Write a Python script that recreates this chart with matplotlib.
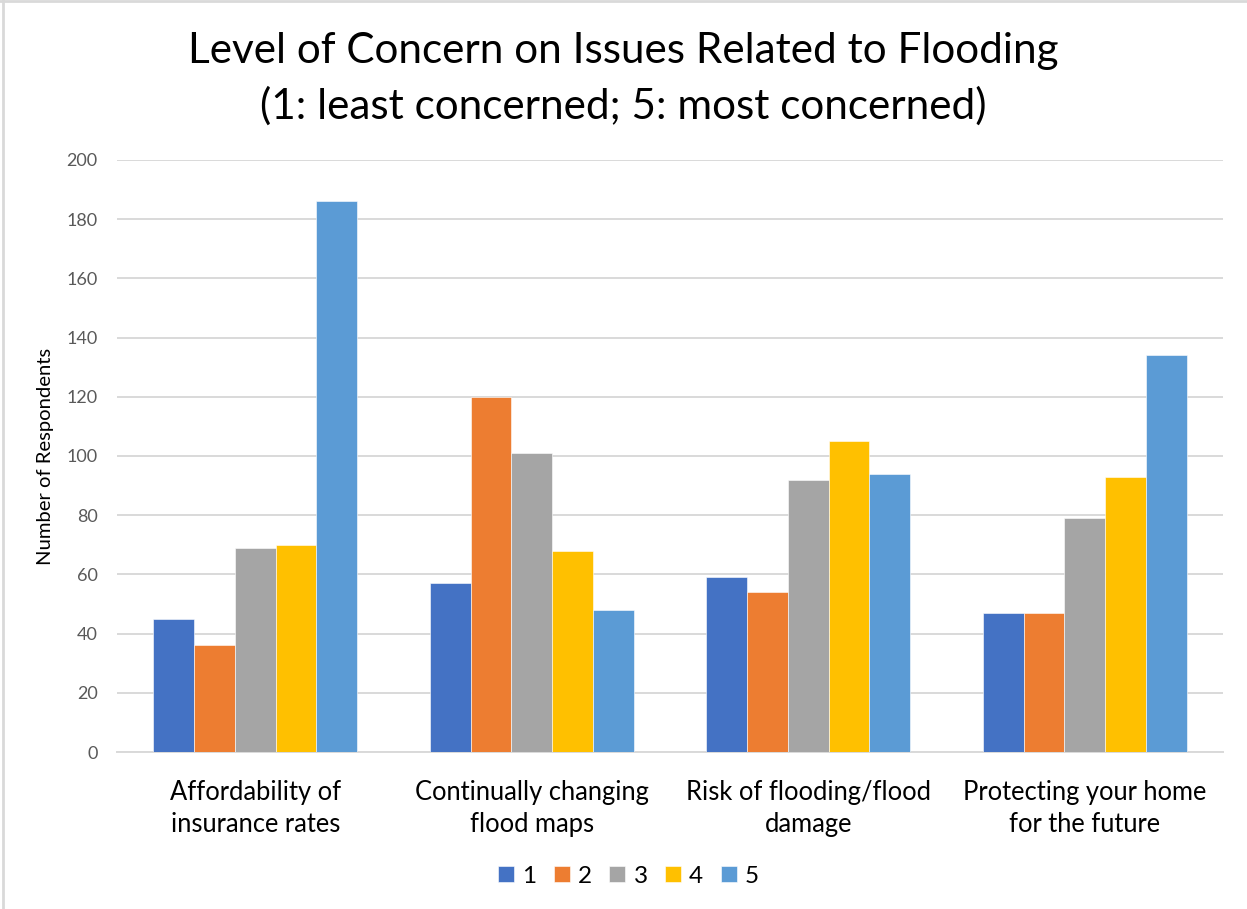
import matplotlib.pyplot as plt
import numpy as np

plt.rcParams["font.family"] = ["Lato", "DejaVu Sans"]

categories = [
    "Affordability of\ninsurance rates",
    "Continually changing\nflood maps",
    "Risk of flooding/flood\ndamage",
    "Protecting your home\nfor the future",
]
levels = ["1", "2", "3", "4", "5"]
level_1 = [45, 57, 59, 47]
level_2 = [36, 120, 54, 47]
level_3 = [69, 101, 92, 79]
level_4 = [70, 68, 105, 93]
level_5 = [186, 48, 94, 134]
colors = ["#4472C4", "#ED7D31", "#A5A5A5", "#FFC000", "#5B9BD5"]

series = [level_1, level_2, level_3, level_4, level_5]
grid_color = "#D9D9D9"

fig = plt.figure(figsize=(12.47, 9.09), dpi=100)
ax = fig.add_axes([0.0938, 0.1727, 0.887, 0.6513])

x = np.arange(len(categories))
w = 0.1475
for i, (vals, c) in enumerate(zip(series, colors)):
    ax.bar(x + (i - 2) * w, vals, width=w, color=c, edgecolor="#FFFFFF",
           linewidth=0.4, label=levels[i], zorder=3)

ax.set_xlim(-0.5, len(categories) - 0.5)
ax.set_ylim(0, 200)
ax.set_yticks(range(0, 201, 20))
ax.yaxis.grid(True, color=grid_color, linewidth=1.4, zorder=0)
ax.set_axisbelow(True)
for s in ["top", "right", "left"]:
    ax.spines[s].set_visible(False)
ax.spines["bottom"].set_color(grid_color)
ax.spines["bottom"].set_linewidth(1.4)
ax.tick_params(axis="y", length=0, pad=14, labelsize=13, labelcolor="#595959")
ax.tick_params(axis="x", length=0, pad=20, labelsize=18.4, labelcolor="#000000")
ax.set_xticks(x)
ax.set_xticklabels(categories, linespacing=1.38)
ax.set_ylabel("Number of Respondents", fontsize=14.6, labelpad=9)

fig.text(0.5, 0.944, "Level of Concern on Issues Related to Flooding",
         ha="center", va="center", fontsize=30.4)
fig.text(0.5, 0.883, "(1: least concerned; 5: most concerned)",
         ha="center", va="center", fontsize=30.4)

fig.legend(loc="center", bbox_to_anchor=(0.504, 0.036), ncol=5, frameon=False,
           fontsize=17.5, handlelength=0.66, handleheight=0.66,
           handletextpad=0.33, columnspacing=0.72)

# thin frame along the left and top edges
fig.add_artist(plt.Line2D([0.0025, 0.0025], [0, 1], color="#D9D9D9", lw=2,
                          transform=fig.transFigure))
fig.add_artist(plt.Line2D([0, 1], [0.9985, 0.9985], color="#D9D9D9", lw=2,
                          transform=fig.transFigure))

fig.savefig("out.png", dpi=100, facecolor="white")
